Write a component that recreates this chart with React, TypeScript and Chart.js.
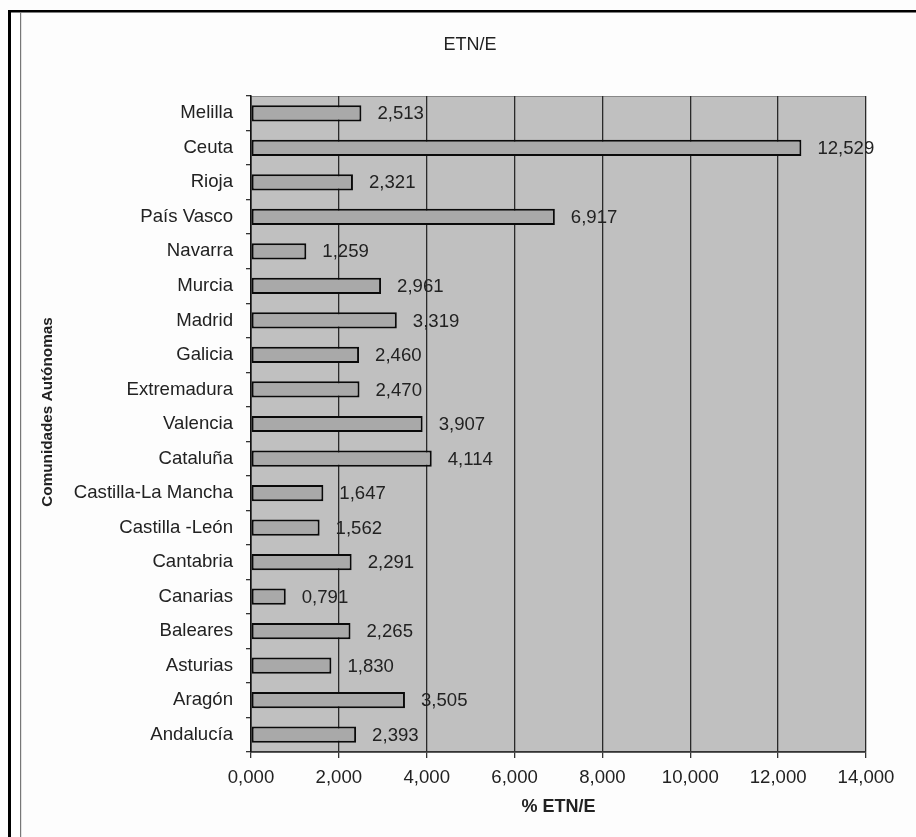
import React, { useEffect, useRef } from "react";
import { Chart, registerables } from "chart.js";

Chart.register(...registerables);

const categories = [
  "Melilla",
  "Ceuta",
  "Rioja",
  "País Vasco",
  "Navarra",
  "Murcia",
  "Madrid",
  "Galicia",
  "Extremadura",
  "Valencia",
  "Cataluña",
  "Castilla-La Mancha",
  "Castilla -León",
  "Cantabria",
  "Canarias",
  "Baleares",
  "Asturias",
  "Aragón",
  "Andalucía",
];

const values = [
  2.513, 12.529, 2.321, 6.917, 1.259, 2.961, 3.319, 2.46, 2.47, 3.907, 4.114,
  1.647, 1.562, 2.291, 0.791, 2.265, 1.83, 3.505, 2.393,
];

const chartTitle = "ETN/E";
const xTitle = "% ETN/E";
const yTitle = "Comunidades Autónomas";
const xMin = 0;
const xMax = 14;
const xStep = 2;

const FONT = '"Liberation Sans", Arial, Helvetica, sans-serif';
const TEXT = "#222";
const FS = 18.6;

const fmt = (v: number) => v.toFixed(3).replace(".", ",");

const framePlugin = {
  id: "frame",
  beforeDraw(chart: any) {
    const { ctx, width, height, chartArea } = chart;
    ctx.save();
    ctx.fillStyle = "#fdfdfd";
    ctx.fillRect(0, 0, width, height);
    ctx.fillStyle = "#ffffff";
    ctx.fillRect(11, 12, 9, height - 12);
    // thick outer frame
    ctx.fillStyle = "#000";
    ctx.fillRect(8, 10, 3, height - 10);
    ctx.fillRect(8, 10, width - 8, 2.5);
    // thin inner line
    ctx.fillStyle = "#777";
    ctx.fillRect(20, 12, 1.2, height - 12);
    // plot area
    const { left, top, right, bottom } = chartArea;
    ctx.fillStyle = "#c0c0c0";
    ctx.fillRect(left, top, right - left, bottom - top);
    ctx.strokeStyle = "#888";
    ctx.lineWidth = 1;
    ctx.strokeRect(left, top + 0.5, right - left - 0.5, bottom - top);
    ctx.restore();
  },
  afterDraw(chart: any) {
    const { ctx, chartArea } = chart;
    ctx.save();
    ctx.fillStyle = TEXT;
    ctx.textAlign = "center";
    ctx.textBaseline = "middle";
    ctx.font = `18px ${FONT}`;
    ctx.fillText(chartTitle, 470, 45);
    ctx.font = `bold 18px ${FONT}`;
    ctx.fillText(xTitle, (chartArea.left + chartArea.right) / 2, 807);
    ctx.translate(47.5, 412);
    ctx.rotate(-Math.PI / 2);
    ctx.font = `bold 15.3px ${FONT}`;
    ctx.fillText(yTitle, 0, 0);
    ctx.restore();
  },
};

const valueLabelPlugin = {
  id: "valueLabels",
  afterDatasetsDraw(chart: any) {
    const { ctx } = chart;
    const meta = chart.getDatasetMeta(0);
    ctx.save();
    ctx.fillStyle = TEXT;
    ctx.font = `${FS}px ${FONT}`;
    ctx.textAlign = "left";
    ctx.textBaseline = "middle";
    meta.data.forEach((el: any, i: number) => {
      ctx.fillText(fmt(values[i]), el.x + 16, el.y + 1);
    });
    ctx.restore();
  },
};

export default function App() {
  const ref = useRef<HTMLCanvasElement | null>(null);

  useEffect(() => {
    if (!ref.current) return;
    const chart = new Chart(ref.current, {
      type: "bar",
      data: {
        labels: categories,
        datasets: [
          {
            data: values,
            backgroundColor: "#a9a9a9",
            borderColor: "#0a0a0a",
            borderWidth: 2,
            borderSkipped: false,
            categoryPercentage: 1,
            barPercentage: 0.47,
          },
        ],
      },
      options: {
        indexAxis: "y",
        responsive: false,
        animation: false,
        events: [],
        layout: { padding: { top: 96, right: 50, left: 0, bottom: 0 } },
        plugins: {
          legend: { display: false },
          title: { display: false },
          tooltip: { enabled: false },
        },
        scales: {
          x: {
            type: "linear",
            min: xMin,
            max: xMax,
            ticks: {
              stepSize: xStep,
              color: TEXT,
              font: { family: FONT, size: FS },
              padding: 9,
              callback: (v: any) => fmt(Number(v)),
            },
            grid: {
              color: "#2a2a2a",
              lineWidth: 1.3,
              drawTicks: true,
              tickLength: 6,
              tickColor: "#333",
            },
            border: { display: true, color: "#333", width: 1.5 },
            afterFit: (scale: any) => {
              scale.height = 85;
            },
          },
          y: {
            type: "category",
            ticks: {
              color: TEXT,
              font: { family: FONT, size: FS },
              padding: 13,
              autoSkip: false,
            },
            grid: {
              display: true,
              offset: true,
              drawOnChartArea: false,
              drawTicks: true,
              tickLength: 5,
              color: "#333",
              lineWidth: 1.3,
            },
            border: { display: true, color: "#111", width: 1.5 },
            afterFit: (scale: any) => {
              scale.width = 251;
            },
          },
        },
      },
      plugins: [framePlugin, valueLabelPlugin],
    });
    return () => chart.destroy();
  }, []);

  return (
    <div style={{ position: "absolute", left: 0, top: 0, width: 916, height: 837 }}>
      <canvas ref={ref} width={916} height={837} style={{ display: "block" }} />
    </div>
  );
}
